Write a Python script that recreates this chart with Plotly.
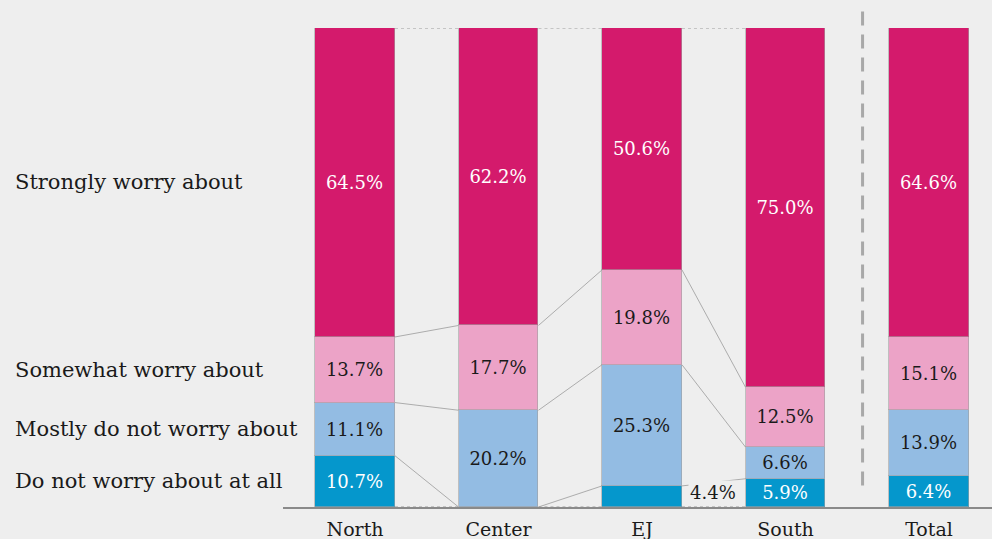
import plotly.graph_objects as go

regions = ["North", "Center", "EJ", "South", "Total"]
answers = ["Do not worry about at all", "Mostly do not worry about",
           "Somewhat worry about", "Strongly worry about"]

not_at_all = [10.7, 0.0, 4.4, 5.9, 6.4]
mostly_not = [11.1, 20.2, 25.3, 6.6, 13.9]
somewhat = [13.7, 17.7, 19.8, 12.5, 15.1]
strongly = [64.5, 62.2, 50.6, 75.0, 64.6]

series = [not_at_all, mostly_not, somewhat, strongly]
colors = ["#0597cc", "#93bce3", "#eca3c7", "#d41a6c"]
text_colors = ["white", "#1a1a1a", "#1a1a1a", "white"]

FONT = "DejaVu Serif"
BAR_W = 0.557
xs = list(range(len(regions)))

fig = go.Figure()

for vals, col, tcol, name in zip(series, colors, text_colors, answers):
    labels = []
    for i, v in enumerate(vals):
        # EJ's small share is labelled outside the bar
        if v == 0 or (v < 5 and i == 2):
            labels.append("")
        else:
            labels.append(f"{v:.1f}%")
    fig.add_trace(go.Bar(
        x=xs, y=vals, name=name, width=BAR_W,
        marker=dict(color=col, line=dict(color="rgba(160,160,160,0.6)", width=1)),
        text=labels, textposition="inside", insidetextanchor="middle",
        textfont=dict(family=FONT, size=18, color=tcol),
        constraintext="none", hoverinfo="skip", showlegend=False,
    ))

# cumulative boundaries for the connector lines
bounds = []
for i in xs:
    acc = [0.0]
    for s in series:
        acc.append(acc[-1] + s[i])
    bounds.append(acc)

for i in range(3):
    for k in range(len(bounds[i])):
        y0 = min(bounds[i][k], 100)
        y1 = min(bounds[i + 1][k], 100)
        flat = abs(y0 - y1) < 0.01
        fig.add_shape(type="line", xref="x", yref="y",
                      x0=i + BAR_W / 2, x1=i + 1 - BAR_W / 2, y0=y0, y1=y1,
                      line=dict(color="#9a9a9a", width=1 if flat else 0.8,
                                dash="dot" if flat else "solid"),
                      layer="below")

# outside label for EJ
fig.add_annotation(x=2 + BAR_W / 2 + 0.04, y=not_at_all[2] / 2 + 0.8, xref="x", yref="y",
                   text=f"{not_at_all[2]:.1f}%", showarrow=False, xanchor="left",
                   bgcolor="#eeeeee", borderpad=1,
                   font=dict(family=FONT, size=18, color="#1a1a1a"))

# category labels on the left, aligned with North's segments
for idx, (s, name) in enumerate(zip(series, answers)):
    mid = bounds[0][idx] + s[0] / 2
    fig.add_annotation(x=-0.381, y=mid, xref="paper", yref="y", text=name,
                       showarrow=False, xanchor="left",
                       font=dict(family=FONT, size=21, color="#1a1a1a"))

# dashed separator before Total (runs above the plot top)
fig.add_shape(type="line", xref="x", yref="paper", x0=3.537, x1=3.537, y0=0.045, y1=1.042,
              line=dict(color="#a8a8a8", width=3, dash="14px,9px"))

fig.update_layout(
    width=992, height=539,
    margin=dict(l=283, r=0, t=28, b=32),
    paper_bgcolor="#eeeeee", plot_bgcolor="#eeeeee",
    barmode="stack", bargap=0,
    xaxis=dict(tickvals=xs, ticktext=regions, range=[-0.502, 4.439],
               showline=True, linecolor="#8a8a8a", linewidth=2,
               showgrid=False, zeroline=False, ticks="", ticklabelstandoff=4,
               tickfont=dict(family=FONT, size=19, color="#1a1a1a")),
    yaxis=dict(range=[0, 100], visible=False, showgrid=False),
)

fig.write_html("out.html", config={"displayModeBar": False},
               post_script="document.body.style.margin='0';")
